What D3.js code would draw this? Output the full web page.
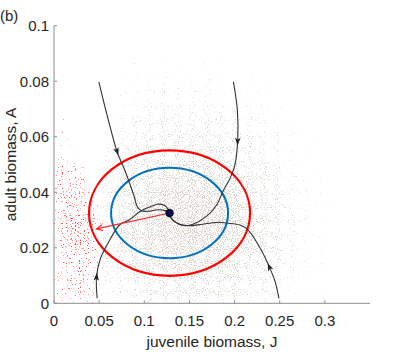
<!DOCTYPE html>
<html>
<head>
<meta charset="utf-8">
<script src="https://cdn.jsdelivr.net/npm/d3@7"></script>
<style>
  body { margin: 0; background: #fff; }
  text { font-family: "Liberation Sans", Arial, sans-serif; fill: #262626; }
</style>
</head>
<body>
<svg id="chart" width="409" height="354"></svg>
<script>
// axis ticks
const xTicks = [0, 0.05, 0.1, 0.15, 0.2, 0.25, 0.3];
const yTicks = [0, 0.02, 0.04, 0.06, 0.08, 0.1];

// equilibrium and the two ellipses round it (J radius, A radius)
const equilibrium = [0.128, 0.0325];
const redRadii = [0.0892, 0.0226];
const blueRadii = [0.0648, 0.0163];
const redArrowEnd = [0.0471, 0.0268];

// trajectories, [J, A]; arrowAt = index of point that carries the arrowhead
const trajTopLeft = [[0.0497, 0.0798], [0.0588, 0.0678], [0.0699, 0.0546], [0.0791, 0.0474], [0.0883, 0.0390],
  [0.0930, 0.0344], [0.0986, 0.0332], [0.1060, 0.0332], [0.1151, 0.0337], [0.1244, 0.0332], [0.1280, 0.0325]];
const trajBottomLeft = [[0.0478, 0.0018], [0.0471, 0.0096], [0.0515, 0.0162], [0.0607, 0.0222], [0.0728, 0.0283],
  [0.0839, 0.0302], [0.0949, 0.0330], [0.1060, 0.0347], [0.1151, 0.0357], [0.1225, 0.0352], [0.1262, 0.0340], [0.1280, 0.0325]];
const trajTopRight = [[0.1987, 0.0798], [0.2031, 0.0696], [0.2034, 0.0582], [0.2003, 0.0498], [0.1950, 0.0450],
  [0.1869, 0.0402], [0.1802, 0.0354], [0.1685, 0.0312], [0.1538, 0.0285], [0.1427, 0.0280], [0.1336, 0.0294],
  [0.1288, 0.0312], [0.1280, 0.0325]];
const trajBottomRight = [[0.2491, 0.0018], [0.2450, 0.0077], [0.2384, 0.0132], [0.2307, 0.0185], [0.2153, 0.0263],
  [0.2061, 0.0282], [0.1913, 0.0289], [0.1832, 0.0292], [0.1648, 0.0285], [0.1465, 0.0280], [0.1336, 0.0294],
  [0.1288, 0.0312], [0.1280, 0.0325]];
const trajectories = [
  {pts: trajTopLeft, arrowAt: 2},
  {pts: trajBottomLeft, arrowAt: 1},
  {pts: trajTopRight, arrowAt: 2},
  {pts: trajBottomRight, arrowAt: 2}
];

// density of the grey sample cloud (rows = A, cols = J)
const cloudJ = [0.0125, 0.0375, 0.0625, 0.0875, 0.1125, 0.1375, 0.1625, 0.1875, 0.2125, 0.2375, 0.2625, 0.2875, 0.3125, 0.3375];
const cloudA = [0.095, 0.085, 0.075, 0.065, 0.055, 0.045, 0.035, 0.025, 0.015, 0.005];
const cloudDensity = [
  [0, 0, 0.02, 0.03, 0.04, 0.04, 0.04, 0.03, 0.03, 0.02, 0.01, 0.01, 0, 0],
  [0, 0, 0.05, 0.08, 0.1, 0.1, 0.1, 0.08, 0.06, 0.05, 0.03, 0.02, 0.01, 0],
  [0, 0, 0.1, 0.15, 0.2, 0.2, 0.2, 0.18, 0.15, 0.1, 0.06, 0.04, 0.02, 0],
  [0, 0, 0.15, 0.25, 0.3, 0.35, 0.35, 0.3, 0.25, 0.18, 0.1, 0.06, 0.03, 0.01],
  [0, 0, 0.2, 0.35, 0.45, 0.5, 0.5, 0.45, 0.35, 0.25, 0.15, 0.08, 0.04, 0.01],
  [0, 0.02, 0.3, 0.5, 0.7, 0.8, 0.8, 0.7, 0.55, 0.35, 0.2, 0.1, 0.05, 0.02],
  [0, 0.03, 0.4, 0.7, 0.9, 1, 1, 0.9, 0.7, 0.45, 0.25, 0.12, 0.06, 0.02],
  [0, 0.03, 0.4, 0.7, 0.9, 1, 1, 0.9, 0.7, 0.45, 0.28, 0.15, 0.07, 0.02],
  [0, 0.02, 0.3, 0.55, 0.7, 0.8, 0.8, 0.7, 0.55, 0.4, 0.25, 0.13, 0.06, 0.02],
  [0, 0.02, 0.2, 0.35, 0.45, 0.5, 0.5, 0.45, 0.35, 0.28, 0.18, 0.1, 0.05, 0.01]
];
// density of the red samples (small J)
const redJ = [0.005, 0.015, 0.025, 0.035, 0.045, 0.055];
const redA = [0.075, 0.065, 0.055, 0.045, 0.035, 0.025, 0.015, 0.005];
const redDensity = [
  [0.05, 0.02, 0, 0, 0, 0],
  [0.15, 0.1, 0.03, 0, 0, 0],
  [0.3, 0.3, 0.15, 0.05, 0, 0],
  [0.5, 0.6, 0.5, 0.3, 0.1, 0],
  [0.6, 0.8, 0.8, 0.6, 0.3, 0.05],
  [0.6, 0.8, 0.9, 0.8, 0.5, 0.1],
  [0.5, 0.6, 0.7, 0.7, 0.5, 0.15],
  [0.3, 0.4, 0.5, 0.5, 0.4, 0.1]
];

const svg = d3.select('#chart');
const x = d3.scaleLinear().domain([0, 0.35]).range([54, 370]);
const y = d3.scaleLinear().domain([0, 0.1]).range([303.3, 25.7]);

const defs = svg.append('defs');
defs.append('clipPath').attr('id', 'plot-clip')
  .append('rect').attr('x', x(0)).attr('y', y(0.1)).attr('width', x(0.35) - x(0)).attr('height', y(0) - y(0.1));

// stipple filter: blurred density + fine noise, thresholded into small dots
const toneCurve = '0 0.127 0.173 0.205 0.229 0.249 0.267 0.283 0.298 0.313 0.326';
const stipple = function(id, colour, freq, scale, seed) {
  let f = defs.append('filter').attr('id', id).attr('filterUnits', 'userSpaceOnUse')
    .attr('x', x(0)).attr('y', y(0.1)).attr('width', x(0.35) - x(0)).attr('height', y(0) - y(0.1))
    .attr('color-interpolation-filters', 'sRGB');
  f.append('feGaussianBlur').attr('in', 'SourceGraphic').attr('stdDeviation', 6).attr('result', 'wash');
  f.append('feComponentTransfer').attr('in', 'wash').attr('result', 'offset')
    .append('feFuncA').attr('type', 'table').attr('tableValues', toneCurve);
  f.append('feTurbulence').attr('type', 'fractalNoise').attr('baseFrequency', freq)
    .attr('numOctaves', 1).attr('seed', seed).attr('result', 'noise');
  f.append('feComposite').attr('in', 'offset').attr('in2', 'noise').attr('operator', 'arithmetic')
    .attr('k1', 0).attr('k2', scale).attr('k3', 1).attr('k4', 0).attr('result', 'sum');
  f.append('feComponentTransfer').attr('in', 'sum').attr('result', 'dots')
    .append('feFuncA').attr('type', 'linear').attr('slope', 9).attr('intercept', -9 * 0.86);
  f.append('feFlood').attr('flood-color', colour).attr('result', 'col');
  f.append('feComposite').attr('in', 'col').attr('in2', 'dots').attr('operator', 'in');
};
stipple('grey-dots', '#d8d3cb', 0.93, 1.15, 3);
stipple('red-dots', '#ff4a4a', 0.77, 0.9, 7);

const drawCloud = function(cols, rows, dens, dj, da, filterId) {
  let g = svg.append('g').attr('clip-path', 'url(#plot-clip)').append('g').attr('filter', 'url(#' + filterId + ')');
  dens.forEach(function(row, i) {
    row.forEach(function(d, k) {
      if (d <= 0) return;
      g.append('rect')
        .attr('x', x(cols[k] - dj / 2)).attr('y', y(rows[i] + da / 2))
        .attr('width', x(dj) - x(0) + 0.5).attr('height', y(0) - y(da) + 0.5)
        .attr('fill', '#000').attr('fill-opacity', d);
    });
  });
};
drawCloud(cloudJ, cloudA, cloudDensity, 0.025, 0.01, 'grey-dots');
drawCloud(redJ, redA, redDensity, 0.01, 0.01, 'red-dots');

// axes (MATLAB look: box off, ticks inside)
const axisCol = '#8c8c8c';
svg.append('line').attr('x1', x(0)).attr('x2', x(0.35)).attr('y1', y(0)).attr('y2', y(0))
  .attr('stroke', axisCol).attr('stroke-width', 1);
svg.append('line').attr('x1', x(0)).attr('x2', x(0)).attr('y1', y(0)).attr('y2', y(0.1))
  .attr('stroke', axisCol).attr('stroke-width', 1);
xTicks.forEach(function(t) {
  svg.append('line').attr('x1', x(t)).attr('x2', x(t)).attr('y1', y(0)).attr('y2', y(0) - 3).attr('stroke', axisCol);
  svg.append('text').attr('x', x(t)).attr('y', y(0) + 23).attr('text-anchor', 'middle')
    .attr('font-size', 15).text(d3.format('~g')(t));
});
yTicks.forEach(function(t) {
  svg.append('line').attr('x1', x(0)).attr('x2', x(0) + 3).attr('y1', y(t)).attr('y2', y(t)).attr('stroke', axisCol);
  svg.append('text').attr('x', x(0) - 5).attr('y', y(t) + 5.5).attr('text-anchor', 'end')
    .attr('font-size', 15).text(d3.format('~g')(t));
});
svg.append('text').attr('x', (x(0) + x(0.35)) / 2).attr('y', 347).attr('text-anchor', 'middle')
  .attr('font-size', 15.5).text('juvenile biomass, J');
svg.append('text').attr('transform', 'translate(16,' + (y(0) + y(0.1)) / 2 + ') rotate(-90)')
  .attr('text-anchor', 'middle').attr('font-size', 15.5).text('adult biomass, A');
svg.append('text').attr('x', 0).attr('y', 21).attr('font-size', 15).text('(b)');

// ellipses
const ex = x(equilibrium[0]), ey = y(equilibrium[1]);
svg.append('ellipse').attr('cx', ex).attr('cy', ey)
  .attr('rx', x(redRadii[0]) - x(0)).attr('ry', y(0) - y(redRadii[1]))
  .attr('fill', 'none').attr('stroke', '#ff0000').attr('stroke-width', 2.2);
svg.append('ellipse').attr('cx', ex).attr('cy', ey)
  .attr('rx', x(blueRadii[0]) - x(0)).attr('ry', y(0) - y(blueRadii[1]))
  .attr('fill', 'none').attr('stroke', '#0072bd').attr('stroke-width', 2);

// trajectories with arrowheads
const line = d3.line().x(d => x(d[0])).y(d => y(d[1])).curve(d3.curveCatmullRom.alpha(0.5));
trajectories.forEach(function(t) {
  svg.append('path').attr('d', line(t.pts)).attr('fill', 'none')
    .attr('stroke', '#333333').attr('stroke-width', 1.1);
  let p = t.pts[t.arrowAt], a = t.pts[t.arrowAt - 1], b = t.pts[t.arrowAt + 1];
  let ang = Math.atan2(y(b[1]) - y(a[1]), x(b[0]) - x(a[0])) * 180 / Math.PI;
  svg.append('path').attr('d', 'M4,0 L-4,-2.8 L-2,0 L-4,2.8 Z')
    .attr('transform', 'translate(' + x(p[0]) + ',' + y(p[1]) + ') rotate(' + ang + ')')
    .attr('fill', '#222');
});

// red arrow
const rx1 = x(redArrowEnd[0]), ry1 = y(redArrowEnd[1]);
svg.append('line').attr('x1', ex).attr('y1', ey).attr('x2', rx1).attr('y2', ry1)
  .attr('stroke', '#ff2020').attr('stroke-width', 1.1);
const rang = Math.atan2(ry1 - ey, rx1 - ex) * 180 / Math.PI;
svg.append('path').attr('d', 'M-6,-3 L0,0 L-6,3')
  .attr('transform', 'translate(' + rx1 + ',' + ry1 + ') rotate(' + rang + ')')
  .attr('fill', 'none').attr('stroke', '#ff2020').attr('stroke-width', 1.1);

// equilibrium point
svg.append('circle').attr('cx', ex).attr('cy', ey).attr('r', 3.8)
  .attr('fill', '#0b0b55').attr('stroke', '#000').attr('stroke-width', 0.8);
</script>
</body>
</html>
